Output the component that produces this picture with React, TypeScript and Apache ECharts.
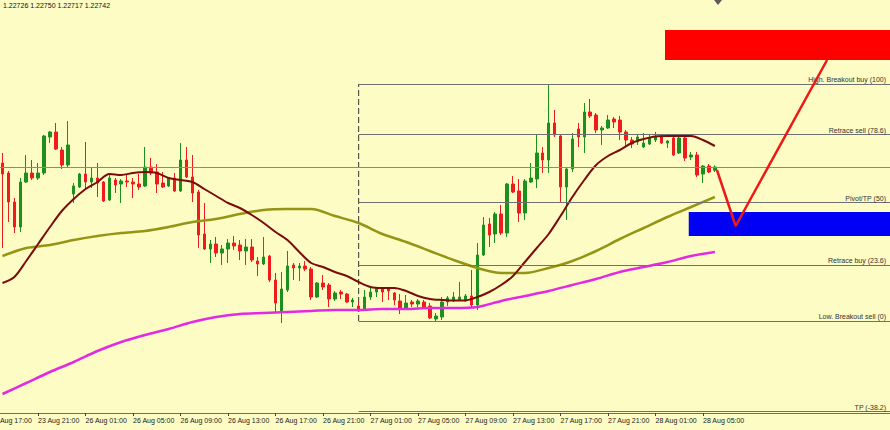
import React, { useEffect, useRef } from "react";
import * as echarts from "echarts";

// ---- time axis (M30 bars, weekend gap between Fri 23 Aug and Mon 26 Aug) ----
const slotCount = 152;
const labelEvery = 8;
const lastLabelIndex = 122;
function pad(n: number) { return n < 10 ? "0" + n : "" + n; }
function buildTimes(): string[] {
  const out: string[] = [];
  for (let m = 17 * 60; m < 24 * 60; m += 30) out.push(`23 Aug ${pad(Math.floor(m / 60))}:${pad(m % 60)}`);
  let day = 26, m = 0;
  while (out.length < slotCount) {
    out.push(`${day} Aug ${pad(Math.floor(m / 60))}:${pad(m % 60)}`);
    m += 30;
    if (m >= 1440) { m = 0; day++; }
  }
  return out;
}
const times = buildTimes();

// ---- candles (first visible bar is slot 2 = 23 Aug 18:00) ----
const firstCandleIndex = 2;
const opens = [
  1.22762, 1.22712, 1.22567, 1.22442, 1.22667, 1.22712, 1.22687, 1.22712, 1.22892, 1.22917,
  1.22827, 1.22752, 1.22607, 1.22642, 1.22707, 1.22667, 1.22687, 1.22667, 1.22577, 1.22677,
  1.22657, 1.22672, 1.22667, 1.22657, 1.22647, 1.22742, 1.22717, 1.22662, 1.22647, 1.22687,
  1.22622, 1.22777, 1.22692, 1.22617, 1.22407, 1.22332, 1.22357, 1.22312, 1.22332, 1.22362,
  1.22352, 1.22322, 1.22342, 1.22272, 1.22257, 1.22297, 1.22177, 1.22017, 1.22127, 1.22252,
  1.22237, 1.22247, 1.22232, 1.22092, 1.22162, 1.22152, 1.22082, 1.22117, 1.22107, 1.22067,
  1.22047, 1.22032, 1.22092, 1.22117, 1.22137, 1.22137, 1.22112, 1.22072, 1.22037, 1.22067,
  1.22057, 1.22067, 1.22047, 1.21982, 1.21992, 1.22067, 1.22072, 1.22077, 1.22077, 1.22097,
  1.22052, 1.22302, 1.22457, 1.22407, 1.22507, 1.22412, 1.22657, 1.22622, 1.22512, 1.22667,
  1.22682, 1.22812, 1.22777, 1.22962, 1.22897, 1.22642, 1.22732, 1.22932, 1.22892, 1.23017,
  1.23002, 1.22927, 1.22937, 1.22982, 1.22977, 1.22917, 1.22877, 1.22867, 1.22842, 1.22857,
  1.22877, 1.22897, 1.22862, 1.22887, 1.22812, 1.22887, 1.22792, 1.22802, 1.22707, 1.22747,
  1.22726,
];
const closes = [
  1.22707, 1.22567, 1.22442, 1.22667, 1.22712, 1.22687, 1.22712, 1.22897, 1.22917, 1.22832,
  1.22752, 1.22852, 1.22647, 1.22707, 1.22667, 1.22687, 1.22662, 1.22572, 1.22687, 1.22652,
  1.22672, 1.22667, 1.22657, 1.22642, 1.22742, 1.22712, 1.22657, 1.22642, 1.22687, 1.22622,
  1.22777, 1.22692, 1.22612, 1.22402, 1.22332, 1.22357, 1.22312, 1.22332, 1.22362, 1.22347,
  1.22322, 1.22342, 1.22277, 1.22257, 1.22292, 1.22177, 1.22062, 1.22132, 1.22247, 1.22237,
  1.22247, 1.22232, 1.22092, 1.22162, 1.22142, 1.22082, 1.22112, 1.22107, 1.22067, 1.22077,
  1.22022, 1.22092, 1.22117, 1.22137, 1.22117, 1.22122, 1.22077, 1.22032, 1.22062, 1.22057,
  1.22072, 1.22042, 1.21987, 1.21997, 1.22067, 1.22087, 1.22092, 1.22092, 1.22097, 1.22052,
  1.22302, 1.22452, 1.22402, 1.22507, 1.22412, 1.22657, 1.22617, 1.22512, 1.22672, 1.22687,
  1.22812, 1.22777, 1.22962, 1.22902, 1.22642, 1.22732, 1.22882, 1.22892, 1.23017, 1.22997,
  1.22927, 1.22937, 1.22977, 1.22967, 1.22917, 1.22877, 1.22857, 1.22892, 1.22862, 1.22887,
  1.22892, 1.22862, 1.22872, 1.22802, 1.22887, 1.22787, 1.22802, 1.22702, 1.22747, 1.22717,
  1.22742,
];
const lows = [
  1.22337, 1.22467, 1.22412, 1.22417, 1.22662, 1.22677, 1.22677, 1.22702, 1.22862, 1.22827,
  1.22732, 1.22742, 1.22562, 1.22637, 1.22627, 1.22637, 1.22592, 1.22567, 1.22572, 1.22612,
  1.22562, 1.22642, 1.22587, 1.22627, 1.22642, 1.22702, 1.22612, 1.22637, 1.22642, 1.22617,
  1.22617, 1.22687, 1.22567, 1.22337, 1.22327, 1.22262, 1.22292, 1.22252, 1.22262, 1.22327,
  1.22277, 1.22252, 1.22267, 1.22197, 1.22252, 1.22167, 1.22012, 1.21962, 1.22117, 1.22177,
  1.22172, 1.22222, 1.22077, 1.22087, 1.22127, 1.22042, 1.22072, 1.22082, 1.22062, 1.22042,
  1.22017, 1.22027, 1.22077, 1.22092, 1.22067, 1.22077, 1.22052, 1.22007, 1.22027, 1.22042,
  1.22042, 1.22032, 1.21982, 1.21972, 1.21977, 1.22047, 1.22067, 1.22072, 1.22067, 1.22042,
  1.22027, 1.22297, 1.22342, 1.22362, 1.22402, 1.22392, 1.22612, 1.22467, 1.22477, 1.22662,
  1.22637, 1.22712, 1.22712, 1.22892, 1.22562, 1.22477, 1.22717, 1.22842, 1.22812, 1.22987,
  1.22912, 1.22852, 1.22932, 1.22937, 1.22877, 1.22842, 1.22837, 1.22852, 1.22837, 1.22852,
  1.22867, 1.22857, 1.22837, 1.22797, 1.22807, 1.22772, 1.22777, 1.22692, 1.22662, 1.22712,
  1.22717,
];
const highs = [
  1.22812, 1.22722, 1.22587, 1.22687, 1.22802, 1.22777, 1.22762, 1.22902, 1.22922, 1.22962,
  1.22842, 1.22972, 1.22662, 1.22712, 1.22867, 1.22737, 1.22762, 1.22672, 1.22702, 1.22687,
  1.22682, 1.22702, 1.22687, 1.22707, 1.22842, 1.22787, 1.22757, 1.22717, 1.22692, 1.22712,
  1.22862, 1.22842, 1.22802, 1.22627, 1.22562, 1.22377, 1.22392, 1.22352, 1.22382, 1.22397,
  1.22377, 1.22382, 1.22382, 1.22292, 1.22392, 1.22302, 1.22212, 1.22217, 1.22322, 1.22262,
  1.22262, 1.22272, 1.22242, 1.22167, 1.22202, 1.22162, 1.22122, 1.22127, 1.22112, 1.22087,
  1.22067, 1.22127, 1.22137, 1.22142, 1.22142, 1.22142, 1.22117, 1.22107, 1.22102, 1.22077,
  1.22082, 1.22077, 1.22062, 1.22012, 1.22092, 1.22097, 1.22117, 1.22167, 1.22107, 1.22227,
  1.22362, 1.22492, 1.22487, 1.22517, 1.22552, 1.22662, 1.22697, 1.22682, 1.22682, 1.22762,
  1.22902, 1.22842, 1.23157, 1.23027, 1.22902, 1.22742, 1.22912, 1.22962, 1.23062, 1.23082,
  1.23012, 1.22947, 1.23002, 1.22992, 1.22997, 1.22927, 1.22892, 1.22902, 1.22912, 1.22902,
  1.22917, 1.22907, 1.22877, 1.22892, 1.22892, 1.22892, 1.22817, 1.22817, 1.22752, 1.22757,
  1.22750,
];

// ---- moving averages (read every 2 / every 4 bars) ----
const maFastStart = 2, maFastStep = 2;
const maFast = [
  1.22162, 1.22192, 1.22272, 1.22357, 1.22442, 1.22522, 1.22582, 1.22632, 1.22667, 1.22707,
  1.22702, 1.22712, 1.22717, 1.22712, 1.22687, 1.22677, 1.22667, 1.22632, 1.22597, 1.22562,
  1.22537, 1.22502, 1.22462, 1.22417, 1.22377, 1.22317, 1.22262, 1.22242, 1.22217, 1.22197,
  1.22167, 1.22142, 1.22137, 1.22137, 1.22122, 1.22097, 1.22082, 1.22077, 1.22074, 1.22075,
  1.22092, 1.22117, 1.22152, 1.22197, 1.22267, 1.22337, 1.22407, 1.22497, 1.22592, 1.22677,
  1.22752, 1.22797, 1.22827, 1.22862, 1.22882, 1.22895, 1.22897, 1.22897, 1.22897, 1.22877,
  1.22847,
];
const maSlowStart = 2, maSlowStep = 4;
const maMid = [
  1.22297, 1.22337, 1.22352, 1.22377, 1.22397, 1.22412, 1.22422, 1.22442, 1.22467, 1.22482,
  1.22507, 1.22527, 1.22532, 1.22532, 1.22497, 1.22462, 1.22407, 1.22367, 1.22322, 1.22277,
  1.22237, 1.22212, 1.22212, 1.22237, 1.22272, 1.22322, 1.22382, 1.22437, 1.22492, 1.22542,
  1.22592,
];
const maLong = [
  1.21607, 1.21662, 1.21717, 1.21767, 1.21822, 1.21867, 1.21902, 1.21932, 1.21967, 1.21992,
  1.22007, 1.22012, 1.22017, 1.22022, 1.22027, 1.22027, 1.22032, 1.22032, 1.22037, 1.22037,
  1.22042, 1.22072, 1.22097, 1.22122, 1.22152, 1.22182, 1.22217, 1.22242, 1.22267, 1.22297,
  1.22317,
];

// ---- Fibonacci retracement ----
const fibStartIndex = 62;
const fibLow = 1.21972;
const fibHigh = 1.23157;
const fibLevels = [100, 78.6, 50, 23.6, 0, -38.2];
const fibNames = ["High. Breakout buy", "Retrace sell", "Pivot/TP", "Retrace buy", "Low. Breakout sell", "TP"];

// ---- hand-drawn projection and zones ----
const arrowSlots = [122.35, 125.5, 140.9];
const arrowPrices = [1.22727, 1.22447, 1.23277];
const zoneFromSlot = [113.6, 117.6];
const zoneTop = [1.23427, 1.22517];
const zoneBottom = [1.23277, 1.22397];
const zoneColors = ["#ff0000", "#0000f5"];

const yMin = 1.21512;
const yMax = 1.23577;

const FONT = "'Liberation Sans', Arial, sans-serif";

export default function App() {
  const ref = useRef<HTMLDivElement>(null);
  useEffect(() => {
    document.body.style.margin = "0";
    if (!ref.current) return;
    const chart = echarts.init(ref.current, undefined, { renderer: "svg" });
    const n = opens.length;
    const candleData = opens.map((o, i) => [i + firstCandleIndex, o, closes[i], lows[i], highs[i]]);
    const fastData = maFast.map((v, i) => [maFastStart + i * maFastStep, v]);
    const midData = maMid.map((v, i) => [maSlowStart + i * maSlowStep, v]);
    const longData = maLong.map((v, i) => [maSlowStart + i * maSlowStep, v]);
    const leftEdge = -0.5;
    const rightEdge = slotCount - 0.5;
    const bid = closes[n - 1];
    const fibPrice = (lvl: number) => fibLow + ((fibHigh - fibLow) * lvl) / 100;
    const header = [opens[n - 1], highs[n - 1], lows[n - 1], closes[n - 1]].map((v) => v.toFixed(5)).join(" ");
    const showSlot = (idx: number) => idx % labelEvery === 0 && idx <= lastLabelIndex;

    chart.setOption({
      animation: false,
      backgroundColor: "#fdfcc4",
      title: {
        text: header,
        left: 3,
        top: 2,
        padding: 0,
        textStyle: { fontSize: 7, fontWeight: "normal", color: "#111", fontFamily: FONT },
      },
      grid: { left: -12.37, right: 0, top: 0, bottom: 17, containLabel: false, outerBoundsMode: "none" },
      xAxis: [
        {
          type: "category",
          data: times,
          boundaryGap: true,
          axisLine: { show: true, lineStyle: { color: "#6e6e6e", width: 1 } },
          axisTick: { show: true, alignWithLabel: true, interval: (i: number) => showSlot(i), length: 3, lineStyle: { color: "#444" } },
          axisLabel: {
            interval: (i: number) => showSlot(i),
            align: "left",
            margin: 4,
            fontSize: 7,
            fontFamily: FONT,
            color: "#222",
          },
          splitLine: { show: false },
        },
        { type: "value", min: leftEdge, max: rightEdge, show: false, splitLine: { show: false } },
      ],
      yAxis: { type: "value", min: yMin, max: yMax, show: false, splitLine: { show: false } },
      series: [
        {
          type: "candlestick",
          xAxisIndex: 0,
          encode: { x: 0, y: [1, 2, 3, 4] },
          data: candleData,
          barWidth: 3,
          itemStyle: {
            color: "#1d8f1d",
            color0: "#ee1c1c",
            borderColor: "#1d8f1d",
            borderColor0: "#ee1c1c",
            borderWidth: 1,
          },
        },
        {
          type: "line",
          xAxisIndex: 1,
          z: 1,
          data: [[fibStartIndex, fibLow], [fibStartIndex, fibHigh]],
          symbol: "none",
          lineStyle: { color: "#333", width: 1, type: [6, 3] },
          markLine: {
            silent: true,
            symbol: ["none", "none"],
            lineStyle: { color: "#707070", width: 1, type: "solid" },
            label: {
              show: true,
              position: "insideEndTop",
              formatter: "{b}",
              fontSize: 7,
              fontFamily: FONT,
              color: "#333",
              distance: [4, 1],
            },
            data: [
              ...fibLevels.map((lvl, i) => [
                { name: `${fibNames[i]} (${lvl})`, coord: [fibStartIndex, fibPrice(lvl)] },
                { coord: [rightEdge, fibPrice(lvl)] },
              ]),
              [
                { name: "", coord: [leftEdge, bid], lineStyle: { color: "#8a8a8a" }, label: { show: false } },
                { coord: [rightEdge, bid] },
              ],
            ],
          },
        },
        {
          type: "line",
          xAxisIndex: 0,
          data: longData,
          symbol: "none",
          smooth: 0.3,
          lineStyle: { color: "#e22ae2", width: 2.5 },
        },
        {
          type: "line",
          xAxisIndex: 0,
          data: midData,
          symbol: "none",
          smooth: 0.3,
          lineStyle: { color: "#959515", width: 2.5 },
        },
        {
          type: "line",
          xAxisIndex: 0,
          data: fastData,
          symbol: "none",
          smooth: 0.3,
          lineStyle: { color: "#7a0c0c", width: 2 },
        },
        {
          type: "line",
          xAxisIndex: 1,
          z: 5,
          data: arrowSlots.map((x, i) => [x, arrowPrices[i]]),
          symbol: "none",
          lineStyle: { color: "#ee1818", width: 2.5 },
          markArea: {
            silent: true,
            data: zoneFromSlot.map((from, i) => [
              { coord: [from, zoneTop[i]], itemStyle: { color: zoneColors[i], opacity: 1 } },
              { coord: [rightEdge, zoneBottom[i]] },
            ]),
          },
        },
      ],
      graphic: [
        {
          type: "polygon",
          shape: { points: [[714, 0], [722, 0], [718, 5]] },
          style: { fill: "#5a5a5a" },
        },
      ],
    });
    return () => chart.dispose();
  }, []);
  return <div ref={ref} style={{ width: 890, height: 430 }} />;
}
